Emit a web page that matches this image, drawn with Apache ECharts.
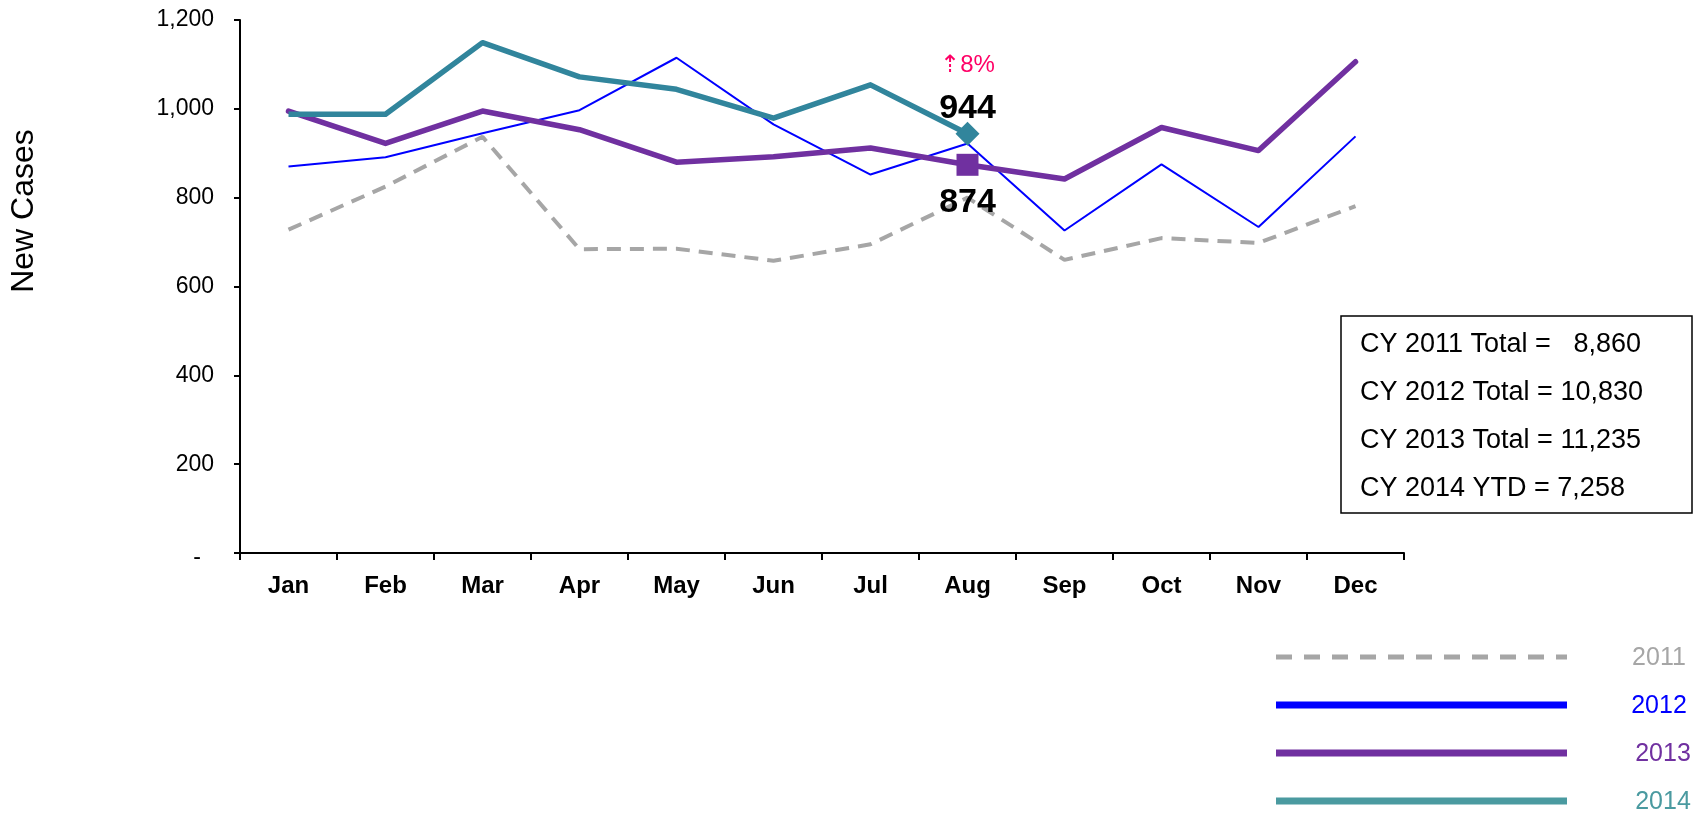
<!DOCTYPE html>
<html><head><meta charset="utf-8">
<script src="https://cdn.jsdelivr.net/npm/echarts@6/dist/echarts.min.js"></script>
<style>html,body{margin:0;padding:0;background:#fff}#c{width:1694px;height:816px}</style>
</head><body><div id="c"></div>
<script>
const months = ['Jan','Feb','Mar','Apr','May','Jun','Jul','Aug','Sep','Oct','Nov','Dec'];
const years = ['2011','2012','2013','2014'];
const cases2011 = [728,825,937,684,685,658,695,800,660,709,698,781];
const cases2012 = [870,891,945,997,1115,965,852,922,726,875,734,938];
const cases2013 = [995,922,995,953,880,892,912,874,842,958,906,1106];
const cases2014 = [988,988,1149,1072,1044,979,1054,944];
const yMin = 0, yMax = 1200, yStep = 200;
const totalsText = ['CY 2011 Total =   8,860','CY 2012 Total = 10,830','CY 2013 Total = 11,235','CY 2014 YTD = 7,258'];
const highlightIdx = 7;

const FONT = '"Liberation Sans", Arial, sans-serif';
const lineColors = ['#A6A6A6','#0000FF','#7030A0','#31859C'];
const legendColors = ['#A6A6A6','#0000FF','#7030A0','#4A9AA0'];

const pct = Math.round((cases2014[highlightIdx] / cases2013[highlightIdx] - 1) * 100);

function mark(arr, opts) {
  return arr.map((v, i) => i === highlightIdx ? Object.assign({value: v}, opts) : v);
}

const chart = echarts.init(document.getElementById('c'));

const graphics = [];
// Y axis title
graphics.push({type:'text', x:24, y:211, rotation:Math.PI/2,
  style:{text:'New Cases', font:'32px ' + FONT, fill:'#000', align:'center', verticalAlign:'middle'}});
// totals box
graphics.push({type:'rect', shape:{x:1341, y:316, width:351, height:197},
  style:{fill:'#fff', stroke:'#000', lineWidth:1.5}, z:10});
const boxY = [345, 393, 441, 489];
totalsText.forEach((t, i) => graphics.push({type:'text', x:1360, y:boxY[i], z:11,
  style:{text:t, font:'27px ' + FONT, fill:'#000', align:'left', verticalAlign:'middle'}}));
// legend
const legY = [657, 705, 753, 801];
const legTextX = [1659, 1659, 1663, 1663];
years.forEach((y, i) => {
  graphics.push({type:'line', shape:{x1:1276, y1:legY[i], x2:1567, y2:legY[i]},
    style:{stroke:legendColors[i], lineWidth: i === 0 ? 5 : 7, lineDash: i === 0 ? [16, 12] : null}});
  graphics.push({type:'text', x:legTextX[i], y:legY[i] + 1,
    style:{text:y, font:'25px ' + FONT, fill:legendColors[i], align:'center', verticalAlign:'middle'}});
});

chart.setOption({
  animation:false,
  backgroundColor:'#fff',
  grid:{left:240, right:290, top:20, bottom:263, containLabel:false},
  xAxis:{type:'category', data:months, boundaryGap:true,
    axisLine:{lineStyle:{color:'#000', width:2}},
    axisTick:{show:true, length:7, lineStyle:{color:'#000', width:2}, alignWithLabel:false},
    axisLabel:{color:'#000', fontFamily:FONT, fontSize:24, fontWeight:'bold', margin:21}},
  yAxis:{type:'value', min:yMin, max:yMax, interval:yStep,
    axisLine:{show:true, lineStyle:{color:'#000', width:2}},
    axisTick:{show:true, length:6, lineStyle:{color:'#000', width:2}},
    splitLine:{show:false},
    axisLabel:{color:'#000', fontFamily:FONT, fontSize:23, margin:26,
      formatter: v => v === 0 ? '{d|-}' : v.toLocaleString('en-US'),
      rich:{d:{fontFamily:FONT, fontSize:23, color:'#000', padding:[9, 13, 0, 0]}}}},
  series:[
    {name:years[0], type:'line', data:cases2011, symbol:'none', z:2,
      lineStyle:{color:lineColors[0], width:4, type:[14, 9]}},
    {name:years[1], type:'line', data:cases2012, symbol:'none', z:3,
      lineStyle:{color:lineColors[1], width:2}},
    {name:years[2], type:'line', z:4, symbol:'none',
      data:mark(cases2013, {symbol:'rect', symbolSize:22,
        itemStyle:{color:lineColors[2]},
        label:{show:true, position:'bottom', distance:10, color:'#000',
          fontFamily:FONT, fontSize:34, fontWeight:'bold', formatter: p => String(p.value)}}),
      lineStyle:{color:lineColors[2], width:5.5, cap:'round', join:'round'}},
    {name:years[3], type:'line', z:5, symbol:'none',
      data:mark(cases2014, {symbol:'diamond', symbolSize:24,
        itemStyle:{color:lineColors[3]},
        label:{show:true, position:'top', distance:-5,
          formatter: p => '{p|⇡' + pct + '%}\n{v|' + p.value + '}',
          rich:{p:{color:'#FF0066', fontFamily:FONT, fontSize:24, lineHeight:50, align:'center'},
                v:{color:'#000', fontFamily:FONT, fontSize:34, fontWeight:'bold', lineHeight:36, align:'center'}}}}),
      lineStyle:{color:lineColors[3], width:5.5, join:'round'}}
  ],
  graphic:graphics
});
</script></body></html>
